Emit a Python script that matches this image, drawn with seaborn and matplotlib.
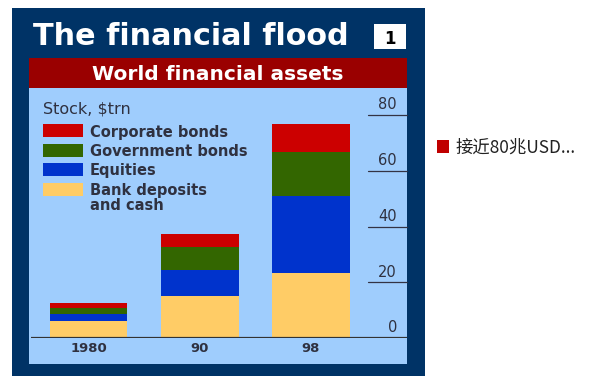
import matplotlib
matplotlib.use("Agg")
import matplotlib.pyplot as plt
import matplotlib.patches as mpatches
import matplotlib.transforms as mtransforms
import numpy as np
import pandas as pd
import seaborn as sns

# Data: world financial assets, stock in $trn
years = ["1980", "90", "98"]
bank_deposits = [6.1, 15.0, 23.2]
equities = [2.4, 9.4, 27.6]
government_bonds = [2.1, 8.1, 15.8]
corporate_bonds = [1.8, 4.9, 10.2]

series_names = ["Corporate bonds", "Government bonds", "Equities", "Bank deposits\nand cash"]
y_ticks = [0, 20, 40, 60, 80]

colors = {
    "Corporate bonds": "#cc0000",
    "Government bonds": "#336600",
    "Equities": "#0033cc",
    "Bank deposits\nand cash": "#ffcc66",
}
NAVY = "#003366"
PANEL = "#9fcdfd"
BANNER = "#9a0000"
INK = "#2f3140"

sns.set_theme(style="white")
plt.rcParams["font.family"] = ["DejaVu Sans"]

W, H = 595, 376
fig = plt.figure(figsize=(W / 100, H / 100), dpi=100)
fig.patch.set_facecolor("white")

# Background layer in pixel coordinates
bg = fig.add_axes([0, 0, 1, 1])
bg.set_xlim(0, W)
bg.set_ylim(H, 0)
bg.axis("off")

def rect(x0, y0, x1, y1, color, **kw):
    bg.add_patch(mpatches.Rectangle((x0, y0), x1 - x0, y1 - y0, facecolor=color,
                                    edgecolor="none", **kw))

rect(12, 8, 425, 376, NAVY)
rect(29, 58, 407, 88, BANNER)
rect(29, 88, 407, 364, PANEL)
rect(374, 24, 406, 49, "white")

bg.text(33, 45, "The financial flood", color="white", fontsize=21.8,
        fontweight="bold", ha="left", va="baseline")
bg.text(390, 44, "1", color="black", fontsize=12, fontweight="bold",
        ha="center", va="baseline")
bg.text(218, 80, "World financial assets", color="white", fontsize=14.5,
        fontweight="bold", ha="center", va="baseline")
bg.text(43, 114, "Stock, $trn", color=INK, fontsize=11.5, ha="left", va="baseline")

# Legend swatches and labels (baseline level with the swatch bottom)
legend_tops = [124, 144, 163, 183]
for name, top in zip(series_names, legend_tops):
    rect(43, top, 83, top + 12.5, colors[name])
    for i, line in enumerate(name.split("\n")):
        bg.text(90, top + 12.5 + i * 14, line, color=INK, fontsize=10.5,
                fontweight="bold", ha="left", va="baseline")

# Side note
rect(437, 140, 449, 153, "#c00000")
bg.text(455, 153, "接近80兆USD...", color="#222222", fontsize=12.5,
        ha="left", va="baseline", family=["Noto Sans CJK SC", "DejaVu Sans"])

# Chart axes: baseline at y=338px, value 80 at y=115px, x from 31 to 407px
ax_left, ax_right = 31, 407
ax_bottom, ax_top = 338, 115
ax = fig.add_axes([ax_left / W, 1 - ax_bottom / H, (ax_right - ax_left) / W,
                   (ax_bottom - ax_top) / H])
ax.set_facecolor("none")

df = pd.DataFrame({
    "year": years,
    "Bank deposits\nand cash": bank_deposits,
    "Equities": equities,
    "Government bonds": government_bonds,
    "Corporate bonds": corporate_bonds,
})
stack_order = ["Bank deposits\nand cash", "Equities", "Government bonds", "Corporate bonds"]
cum = df[stack_order].cumsum(axis=1)

# Stacked bars: draw cumulative totals from the top layer down
for name in reversed(stack_order):
    sns.barplot(x=df["year"], y=cum[name], color=colors[name], saturation=1,
                width=0.70, edgecolor="none", linewidth=0, ax=ax, order=years)

px = 111.25
ax.set_xlim(-(88.5 - ax_left) / px, (ax_right - 88.5) / px)
ax.set_ylim(0, 80)
for s in ax.spines.values():
    s.set_visible(False)
ax.set_xlabel("")
ax.set_ylabel("")
ax.set_yticks([])
ax.set_xticks(range(len(years)))
ax.set_xticklabels(years, color=INK, fontsize=9.5, fontweight="bold")
ax.tick_params(axis="x", length=0, pad=3)

# Baseline
ax.axhline(0, color="#333333", lw=1.6, zorder=5)

# Right-hand value scale: short rules with labels sitting above them
trans = mtransforms.blended_transform_factory(ax.transAxes, ax.transData)
rule_start = (368 - ax_left) / (ax_right - ax_left)
label_x = (397 - ax_left) / (ax_right - ax_left)
for v in y_ticks:
    if v > 0:
        ax.plot([rule_start, 1.0], [v, v], color="#333344", lw=0.9, transform=trans,
                clip_on=False)
    ax.text(label_x, v + 0.9, str(v), transform=trans, ha="right", va="bottom",
            color=INK, fontsize=10.5)

fig.savefig("out.png", dpi=100, facecolor=fig.get_facecolor())
